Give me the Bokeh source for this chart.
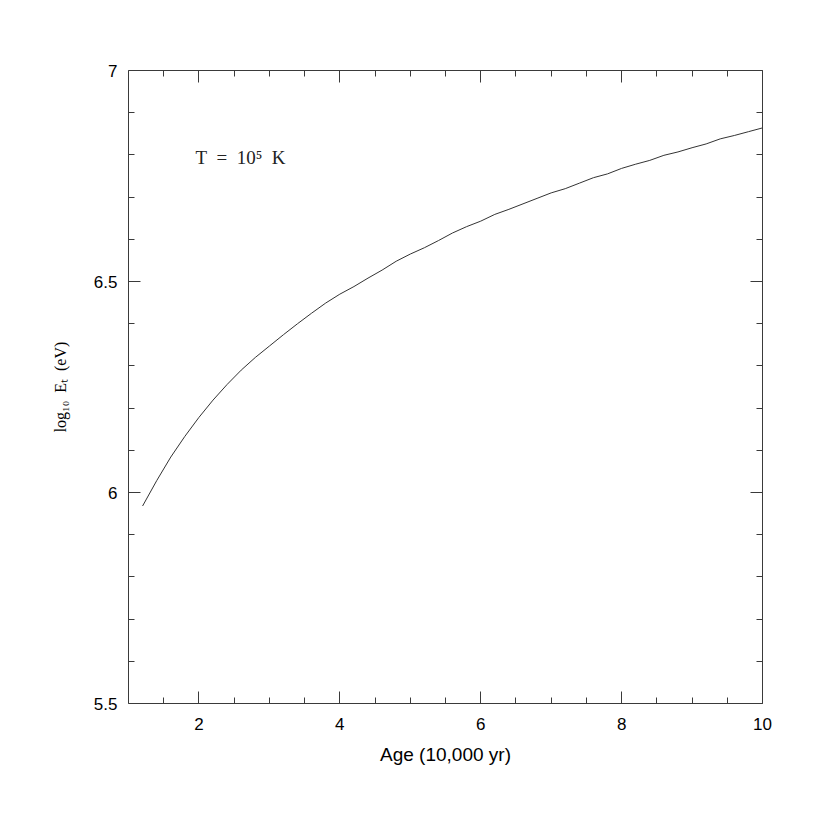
from bokeh.plotting import figure
from bokeh.models import FixedTicker, LinearAxis, CustomJSTickFormatter, Range1d
from bokeh.core.properties import value
from bokeh.embed import file_html
from bokeh.resources import INLINE

# ---- data ----
age = [1.2, 1.4, 1.6, 1.8, 2.0, 2.2, 2.4, 2.6, 2.8, 3.0,
       3.2, 3.4, 3.6, 3.8, 4.0, 4.2, 4.4, 4.6, 4.8, 5.0,
       5.2, 5.4, 5.6, 5.8, 6.0, 6.2, 6.4, 6.6, 6.8, 7.0,
       7.2, 7.4, 7.6, 7.8, 8.0, 8.2, 8.4, 8.6, 8.8, 9.0,
       9.2, 9.4, 9.6, 9.8, 10.0]
log_et = [5.968, 6.028, 6.084, 6.133, 6.178, 6.219, 6.256, 6.290, 6.320, 6.347,
          6.374, 6.400, 6.425, 6.449, 6.470, 6.488, 6.508, 6.527, 6.548, 6.565,
          6.580, 6.597, 6.615, 6.630, 6.643, 6.659, 6.671, 6.684, 6.697, 6.710,
          6.720, 6.733, 6.746, 6.755, 6.768, 6.778, 6.787, 6.799, 6.807, 6.817,
          6.826, 6.838, 6.846, 6.855, 6.864]

x_major = [2, 4, 6, 8, 10]
x_minor = [1.5, 2.5, 3, 3.5, 4.5, 5, 5.5, 6.5, 7, 7.5, 8.5, 9, 9.5]
y_major = [5.5, 6.0, 6.5, 7.0]
y_major_labels = ["5.5", "6", "6.5", "7"]
y_minor = [5.6, 5.7, 5.8, 5.9, 6.1, 6.2, 6.3, 6.4, 6.6, 6.7, 6.8, 6.9]

annot_x = [1.95]
annot_y = [6.794]
annot_text = ["T\u2002=\u200210\u2075\u2002K"]

LINE = "#3a3a3a"

p = figure(width=814, height=800, x_range=Range1d(1, 10), y_range=Range1d(5.5, 7),
           output_backend="svg", toolbar_location=None,
           x_axis_location=None, y_axis_location=None,
           min_border_left=128, min_border_right=52, min_border_top=70, min_border_bottom=97)
p.xgrid.grid_line_color = None
p.ygrid.grid_line_color = None
p.outline_line_color = None
p.background_fill_color = "white"
p.border_fill_color = "white"

blank = CustomJSTickFormatter(code="return '';")


def style(ax, ticks, minor):
    ax.ticker = FixedTicker(ticks=ticks, minor_ticks=minor)
    ax.axis_line_color = LINE
    ax.axis_line_width = 1
    ax.major_tick_line_color = LINE
    ax.minor_tick_line_color = LINE
    ax.major_tick_in = 12
    ax.major_tick_out = 0
    ax.minor_tick_in = 6
    ax.minor_tick_out = 0
    ax.major_label_text_font = "Liberation Sans"
    ax.major_label_text_font_size = "17px"
    ax.major_label_text_color = "black"


xb = LinearAxis(axis_label="Age (10,000 yr)")
style(xb, x_major, x_minor)
xb.major_label_standoff = 14
xb.axis_label_standoff = 11
xb.axis_label_text_font = "Liberation Sans"
xb.axis_label_text_font_size = "19px"
xb.axis_label_text_font_style = "normal"
xb.axis_label_text_color = "black"
p.add_layout(xb, "below")

yl = LinearAxis(axis_label="log\u2081\u2080\u2002E\u209c\u2002(eV)")
style(yl, y_major, y_minor)
yl.major_label_overrides = {t: s for t, s in zip(y_major, y_major_labels)}
yl.major_label_standoff = 11
yl.axis_label_standoff = 22
yl.axis_label_text_font = "Liberation Serif"
yl.axis_label_text_font_size = "16px"
yl.axis_label_text_font_style = "normal"
yl.axis_label_text_color = "black"
p.add_layout(yl, "left")

xt = LinearAxis(formatter=blank)
style(xt, x_major, x_minor)
p.add_layout(xt, "above")

yr = LinearAxis(formatter=blank)
style(yr, y_major, y_minor)
p.add_layout(yr, "right")

p.line(age, log_et, line_color="#333333", line_width=1)

p.text(x=annot_x, y=annot_y, text=annot_text, text_font=value("Liberation Serif"),
       text_font_size="19px", text_align="left", text_baseline="middle", text_color="#222222")

open("out.html", "w").write(file_html(p, INLINE))
